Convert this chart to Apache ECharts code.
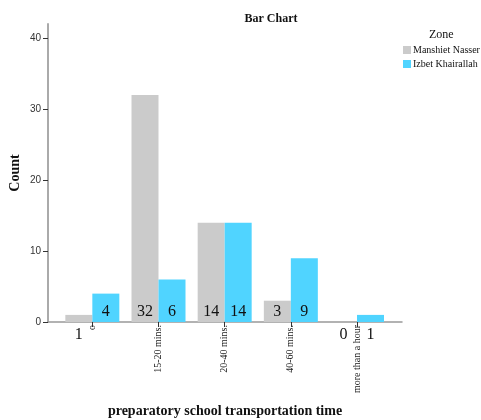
<!DOCTYPE html>
<html>
<head>
<meta charset="utf-8">
<script src="https://cdn.jsdelivr.net/npm/echarts@6/dist/echarts.min.js"></script>
<style>
  html, body { margin: 0; padding: 0; background: #fff; }
  #chart { width: 481px; height: 420px; }
</style>
</head>
<body>
<div id="chart"></div>
<script>
var categories = ['o', '15-20 mins.', '20-40 mins.', '40-60 mins.', 'more than a hour'];
var manshiet = [1, 32, 14, 3, 0];
var izbet = [4, 6, 14, 9, 1];
var yTicks = [0, 10, 20, 30, 40];
var xTicks = [0, 1, 2, 3, 4];

var serif = '"Liberation Serif", "Times New Roman", serif';

// small bars get their label under the axis
function toData(values) {
	return values.map(function(v, i) {
		var item = { value: [i, v] };
		if (v <= 1) {
			item.label = { position: 'bottom', distance: 5 };
		}
		return item;
	});
}

var labelStyle = {
	show: true,
	position: 'insideBottom',
	distance: 2,
	fontFamily: serif,
	fontSize: 16,
	color: '#111',
	formatter: function(p) { return p.value[1]; }
};

var chart = echarts.init(document.getElementById('chart'));
var option = {
	animation: false,
	title: {
		text: 'Bar Chart',
		left: 266,
		top: 8,
		textAlign: 'center',
		textStyle: { fontFamily: serif, fontSize: 12, fontWeight: 'bold', color: '#111' }
	},
	legend: {
		orient: 'vertical',
		left: 403,
		top: 45,
		padding: 0,
		itemWidth: 8,
		itemHeight: 8,
		itemGap: 4,
		icon: 'rect',
		textStyle: { fontFamily: serif, fontSize: 10, color: '#111', padding: [0, 0, 0, -3] },
		data: ['Manshiet Nasser', 'Izbet Khairallah']
	},
	graphic: [{
		type: 'text',
		left: 429,
		top: 29,
		style: { text: 'Zone', font: '12px ' + serif, fill: '#111' }
	}],
	grid: {
		left: 48,
		right: 79,
		top: 24,
		bottom: 98,
		containLabel: false,
		outerBoundsMode: 'none'
	},
	xAxis: {
		type: 'value',
		min: -0.67,
		max: 4.68,
		name: 'preparatory school transportation time',
		nameLocation: 'middle',
		nameGap: 82,
		nameMoveOverlap: false,
		nameTextStyle: { fontFamily: serif, fontSize: 14, fontWeight: 'bold', color: '#111' },
		splitLine: { show: false },
		axisLine: { onZero: false, lineStyle: { color: '#999', width: 1.5 } },
		axisTick: { show: true, length: 5, customValues: xTicks, lineStyle: { color: '#333' } },
		axisLabel: {
			customValues: xTicks,
			rotate: 90,
			margin: 3,
			fontFamily: serif,
			fontSize: 10,
			color: '#222',
			formatter: function(v) { return categories[Math.round(v)]; }
		}
	},
	yAxis: {
		type: 'value',
		min: 0,
		max: 42,
		name: 'Count',
		nameLocation: 'middle',
		nameGap: 26,
		nameMoveOverlap: false,
		nameRotate: 90,
		nameTextStyle: { fontFamily: serif, fontSize: 14, fontWeight: 'bold', color: '#111' },
		splitLine: { show: false },
		axisLine: { show: true, onZero: false, lineStyle: { color: '#aaa', width: 2 } },
		axisTick: { show: true, length: 5, customValues: yTicks, lineStyle: { color: '#333' } },
		axisLabel: {
			customValues: yTicks,
			margin: 7,
			fontFamily: '"Liberation Sans", Arial, sans-serif',
			fontSize: 10,
			color: '#333'
		}
	},
	series: [{
		name: 'Manshiet Nasser',
		type: 'bar',
		barWidth: 27,
		barGap: '0%',
		itemStyle: { color: '#cbcbcb' },
		label: labelStyle,
		data: toData(manshiet)
	}, {
		name: 'Izbet Khairallah',
		type: 'bar',
		barWidth: 27,
		barGap: '0%',
		itemStyle: { color: '#50d4ff' },
		label: labelStyle,
		data: toData(izbet)
	}]
};
chart.setOption(option);
</script>
</body>
</html>
